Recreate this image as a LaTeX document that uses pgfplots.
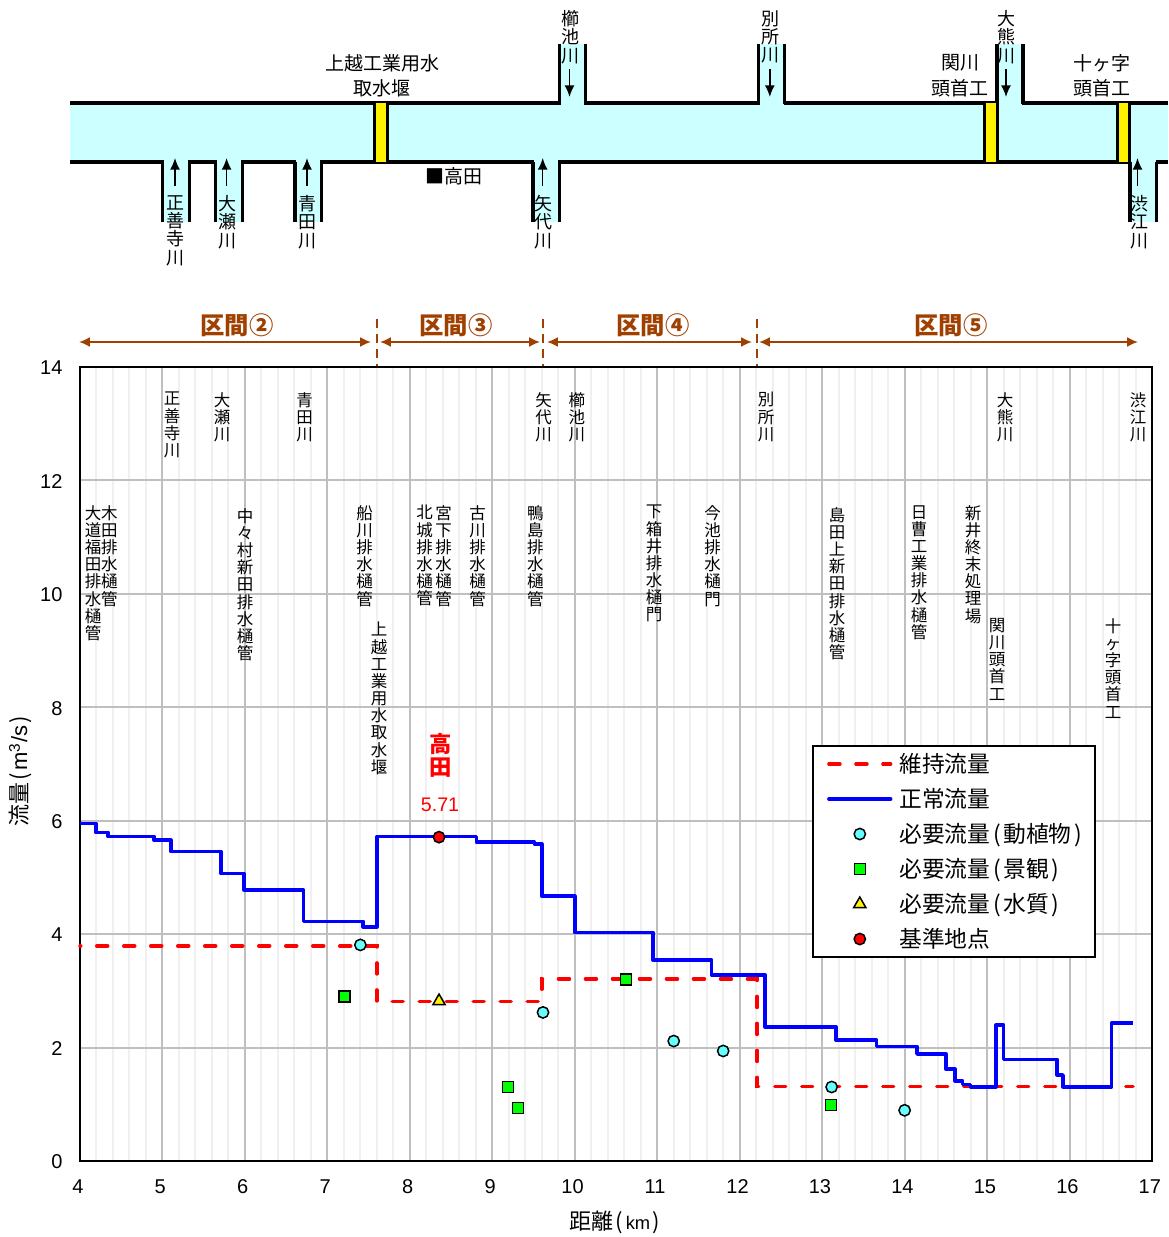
\documentclass[border=0pt]{standalone}
\usepackage{fontspec}
\usepackage{pgfplots}
\pgfplotsset{compat=1.18}
\usetikzlibrary{arrows.meta}
\setmainfont{Noto Sans CJK JP}
\newfontfamily\latinf{Liberation Sans}
\definecolor{rv}{HTML}{CCFFFF}
\definecolor{brn}{HTML}{A04000}
\definecolor{cy}{HTML}{66FFFF}
\makeatletter
\def\vtl#1{\ifx\relax#1\else\hbox to 1em{\hss#1\hss}\expandafter\vtl\fi}
\newcommand\vt[2]{\vtop{\baselineskip=#1\lineskiplimit=-30pt\lineskip=0pt\vtl#2\relax}}
\makeatother
\newcommand\hp[1]{\hbox to .57em{\hss#1\hss}}
\newcommand\lgbox{\path (-3.6pt,0pt) (40.2pt,0pt);}
\newcommand\vs[3]{\node[anchor=north,inner sep=0pt,font=\fontsize{9.9pt}{10pt}\selectfont] at (#1,#2) {\vt{10.3pt}{#3}};}
\newcommand\vb[3]{\node[anchor=north,inner sep=0pt,font=\fontsize{10.8pt}{11pt}\selectfont] at (#1,#2) {\vt{11pt}{#3}};}
\newcommand\hb[3]{\node[inner sep=0pt,font=\fontsize{11.4pt}{12pt}\selectfont] at (#1,#2) {#3};}
\begin{document}
\begin{tikzpicture}[x=0.6pt,y=-0.6pt]
\path[use as bounding box] (0,0) rectangle (1168,1237);
% ---------- river schematic
\fill[rv] (70,103) rectangle (1168,162);
\foreach \a/\b in {162.6/189.4,215.5/242.3,295/321.5,533/559.5,1130/1156.7}{
  \fill[rv] (\a,160) rectangle (\b,221.7);
  \draw[line width=2pt] (\a,162) -- (\a,221.7);
  \draw[line width=2pt] (\b,162) -- (\b,221.7);
}
\foreach \a/\b in {559.5/585.5,758.3/784.7,997/1023}{
  \fill[rv] (\a,44) rectangle (\b,105);
  \draw[line width=2pt] (\a,44) -- (\a,104);
  \draw[line width=2pt] (\b,44) -- (\b,104);
}
\draw[line width=2.4pt] (70,103) -- (561,103) (584,103) -- (759.5,103) (783.5,103) -- (998,103) (1022,103) -- (1168,103);
\draw[line width=2.4pt] (70,162.5) -- (163.8,162.5) (188.2,162.5) -- (216.7,162.5) (241.1,162.5) -- (296.2,162.5) (320.3,162.5) -- (534.2,162.5) (558.3,162.5) -- (1131,162.5) (1155.5,162.5) -- (1168,162.5);
\foreach \a/\b in {374.5/387.5,984.5/997,1117/1129.5}{
  \fill[yellow] (\a,103) rectangle (\b,162);
  \draw[line width=1.8pt] (\a,103) -- (\a,162) (\b,103) -- (\b,162);
}
\foreach \a in {175,226.6,307,542.7,1137.5}
  \draw[-{Latex[length=7pt,width=6pt]},line width=0.9pt] (\a,186) -- (\a,158);
\foreach \a in {569.5,769.8,1006}
  \draw[-{Latex[length=7pt,width=6pt]},line width=0.9pt] (\a,69) -- (\a,97);
\vb{175}{195}{正善寺川}
\vb{227}{195}{大瀬川}
\vb{307}{195}{青田川}
\vb{543}{195}{矢代川}
\vb{1139}{195}{渋江川}
\vb{570}{10}{櫛池川}
\vb{770}{10}{別所川}
\vb{1006}{10}{大熊川}
\hb{382}{63}{上越工業用水}
\hb{382}{88}{取水堰}
\hb{960}{63}{関川}
\hb{960}{88}{頭首工}
\hb{1102}{63}{十ヶ字}
\hb{1102}{88}{頭首工}
\hb{454}{176}{■高田}
% ---------- sections
\foreach \a in {377,543,757}
  \draw[brn,line width=1.1pt,dash pattern=on 5.4pt off 3.6pt] (\a,319) -- (\a,367);
\foreach \a/\b in {79/371,380/540,547/752,759/1138}
  \draw[brn,line width=1.2pt,{Latex[length=6.5pt,width=6pt]}-{Latex[length=6.5pt,width=6pt]}] (\a,342) -- (\b,342);
\foreach \a/\t in {237/区間②,456/区間③,653/区間④,951/区間⑤}
  \node[inner sep=0pt,text=brn,font=\fontsize{14.6pt}{15pt}\selectfont\bfseries] at (\a,325) {\t};
% ---------- main axis
\begin{axis}[
  at={(48pt,-696.6pt)},anchor=south west,
  scale only axis,width=643.2pt,height=476.4pt,
  xmin=4,xmax=17,ymin=0,ymax=14,
  xtick={4,...,17},ytick={0,2,...,14},
  minor x tick num=4,
  axis line style={black,line width=1.5pt},
  major tick length=0pt,minor tick length=0pt,
  grid=both,
  major grid style={draw=black!25,line width=1.2pt},
  minor grid style={draw=black!6,line width=1.2pt},
  /pgf/number format/assume math mode=true,
  tick label style={font=\latinf\fontsize{12pt}{13pt}\selectfont},
  xticklabel style={yshift=-7.5pt,xshift=-1.3pt},
  yticklabel style={xshift=-7pt,yshift=-0.5pt},
  xlabel={距離\hp{(}{\latinf\fontsize{11pt}{12pt}\selectfont km}\hp{)}},
  ylabel={流量\hp{(}{\latinf\fontsize{13.2pt}{13pt}\selectfont m\textsuperscript{3}/s}\hp{)}},
  x label style={at={(axis description cs:0.5,-0.0768)},anchor=center,font=\fontsize{13.2pt}{14pt}\selectfont},
  y label style={at={(axis description cs:-0.056,0.4924)},anchor=center,font=\fontsize{13.2pt}{14pt}\selectfont},
  legend style={at={(rel axis cs:0.6828,0.5239)},anchor=north west,draw=black,line width=1.2pt,fill=white,
    font=\fontsize{13.65pt}{14pt}\selectfont,inner xsep=4pt,inner ysep=2.4pt,row sep=4pt,
    cells={anchor=west,line width=1pt},/tikz/every node/.append style={text height=11.5pt,text depth=1.5pt}},
  legend cell align=left,
  clip=false,
]
\addplot[red,line width=2.1pt,line cap=round,dash pattern=on 6.6pt off 9.6pt,dash phase=6.15pt,
  legend image code/.code={\lgbox\draw[red,line width=2.1pt,line cap=round,dash pattern=on 6.6pt off 9.6pt,dash phase=0pt] (1pt,0pt) -- (38pt,0pt);}]
  coordinates {(4,3.79)(7.60,3.79)(7.60,2.81)(9.60,2.81)(9.60,3.21)(12.21,3.21)(12.21,1.31)(16.77,1.31)};
\addlegendentry{維持流量}
\addplot[blue,line width=2.2pt,line join=round,
  legend image code/.code={\lgbox\draw[blue,line width=2.2pt,line cap=round] (1pt,0pt) -- (38pt,0pt);}]
  coordinates {(4,5.95)(4.194,5.95)(4.194,5.79)(4.343,5.79)(4.343,5.72)(4.90,5.72)(4.90,5.655)(5.103,5.655)(5.103,5.455)(5.71,5.455)(5.71,5.07)(5.99,5.07)(5.99,4.78)(6.71,4.78)(6.71,4.225)(7.435,4.225)(7.435,4.13)(7.60,4.13)(7.60,5.72)(8.81,5.72)(8.81,5.62)(9.51,5.62)(9.51,5.59)(9.60,5.59)(9.60,4.67)(10.0,4.67)(10.0,4.03)(10.95,4.03)(10.95,3.545)(11.66,3.545)(11.66,3.28)(12.31,3.28)(12.31,2.36)(13.17,2.36)(13.17,2.13)(13.66,2.13)(13.66,2.02)(14.15,2.02)(14.15,1.887)(14.50,1.887)(14.50,1.62)(14.61,1.62)(14.61,1.416)(14.70,1.416)(14.70,1.35)(14.80,1.35)(14.80,1.31)(15.11,1.31)(15.11,2.40)(15.20,2.40)(15.20,1.79)(15.85,1.79)(15.85,1.516)(15.92,1.516)(15.92,1.31)(16.51,1.31)(16.51,2.43)(16.77,2.43)};
\addlegendentry{正常流量}
\addplot[only marks,mark=*,mark size=3.4pt,mark options={fill=cy,draw=black,line width=0.9pt},
  legend image code/.code={\lgbox\draw[mark options={fill=cy,draw=black,line width=0.9pt}] plot[mark=*,mark size=3.4pt] coordinates {(19.5pt,0pt)};}]
  coordinates {(7.40,3.81)(9.615,2.62)(11.20,2.115)(11.80,1.94)(13.115,1.305)(14.0,0.894)};
\addlegendentry{必要流量\hp{(}動植物\hp{)}}
\addplot[only marks,mark=square*,mark size=3.3pt,mark options={fill=green,draw=black,line width=0.9pt},
  legend image code/.code={\lgbox\draw[mark options={fill=green,draw=black,line width=0.9pt}] plot[mark=square*,mark size=3.3pt] coordinates {(19.5pt,0pt)};}]
  coordinates {(7.21,2.90)(10.62,3.20)(9.19,1.305)(9.31,0.935)(13.11,0.99)};
\addlegendentry{必要流量\hp{(}景観\hp{)}}
\addplot[only marks,mark=triangle*,mark size=4.2pt,mark options={fill=yellow,draw=black,line width=0.9pt},
  legend image code/.code={\lgbox\draw[mark options={fill=yellow,draw=black,line width=0.9pt}] plot[mark=triangle*,mark size=4.2pt] coordinates {(19.5pt,0pt)};}]
  coordinates {(8.354,2.82)};
\addlegendentry{必要流量\hp{(}水質\hp{)}}
\addplot[only marks,mark=*,mark size=3.4pt,mark options={fill=red,draw=black,line width=0.9pt},
  legend image code/.code={\lgbox\draw[mark options={fill=red,draw=black,line width=0.9pt}] plot[mark=*,mark size=3.4pt] coordinates {(19.5pt,0pt)};}]
  coordinates {(8.354,5.71)};
\addlegendentry{基準地点}
\end{axis}
% ---------- labels in the chart
\vs{172}{392}{正善寺川}
\vs{222}{392}{大瀬川}
\vs{304.6}{392}{青田川}
\vs{543.6}{392}{矢代川}
\vs{576.8}{392}{櫛池川}
\vs{766}{392}{別所川}
\vs{1005}{392}{大熊川}
\vs{1138}{392}{渋江川}
\vs{93}{505}{大道福田排水樋管}
\vs{109.3}{505}{木田排水樋管}
\vs{245}{508}{中々村新田排水樋管}
\vs{364.6}{505}{船川排水樋管}
\vs{424.6}{505}{北城排水樋管}
\vs{443.6}{505}{宮下排水樋管}
\vs{477.5}{505}{古川排水樋管}
\vs{535.4}{505}{鴨島排水樋管}
\vs{379}{622}{上越工業用水取水堰}
\vs{654}{505}{下箱井排水樋門}
\vs{712.5}{505}{今池排水樋門}
\vs{837}{507}{島田上新田排水樋管}
\vs{919}{505}{日曹工業排水樋管}
\vs{973}{505}{新井終末処理場}
\vs{997}{618}{関川頭首工}
\vs{1113}{618}{十ヶ字頭首工}
\node[anchor=north,inner sep=0pt,text=red,font=\fontsize{13.4pt}{14pt}\selectfont\bfseries] at (441,733) {\vt{13.6pt}{高田}};
\node[inner sep=0pt,text=red,font=\latinf\fontsize{11.8pt}{12pt}\selectfont] at (440,805) {5.71};
\end{tikzpicture}
\end{document}
